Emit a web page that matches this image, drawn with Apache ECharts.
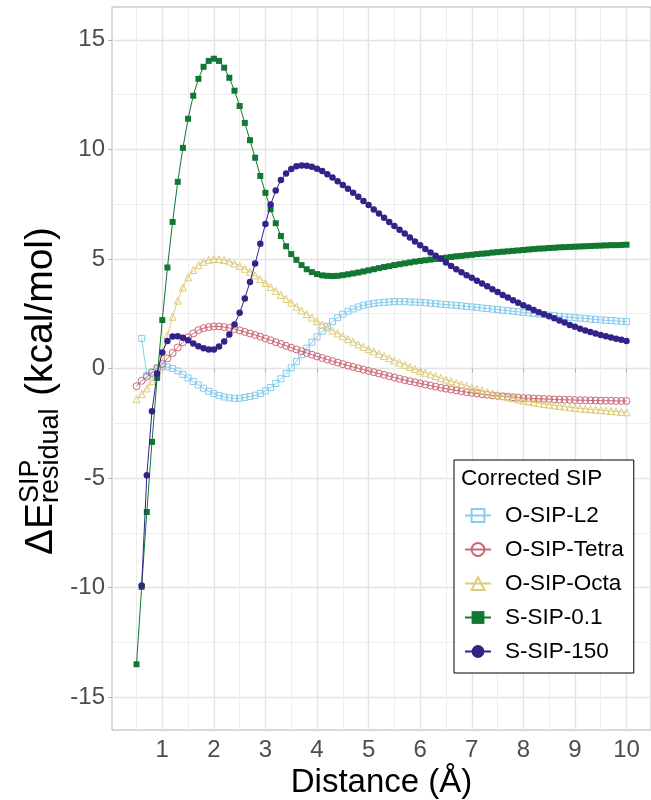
<!DOCTYPE html>
<html>
<head>
<meta charset="utf-8">
<script src="https://cdn.jsdelivr.net/npm/echarts@6/dist/echarts.min.js"></script>
<style>
html,body{margin:0;padding:0;background:#fff;}
#chart{width:651px;height:800px;}
</style>
</head>
<body>
<div id="chart"></div>
<script>
const distance = [0.5,0.6,0.7,0.8,0.9,1.0,1.1,1.2,1.3,1.4,1.5,1.6,1.7,1.8,1.9,2.0,2.1,2.2,2.3,2.4,2.5,2.6,2.7,2.8,2.9,3.0,3.1,3.2,3.3,3.4,3.5,3.6,3.7,3.8,3.9,4.0,4.1,4.2,4.3,4.4,4.5,4.6,4.7,4.8,4.9,5.0,5.1,5.2,5.3,5.4,5.5,5.6,5.7,5.8,5.9,6.0,6.1,6.2,6.3,6.4,6.5,6.6,6.7,6.8,6.9,7.0,7.1,7.2,7.3,7.4,7.5,7.6,7.7,7.8,7.9,8.0,8.1,8.2,8.3,8.4,8.5,8.6,8.7,8.8,8.9,9.0,9.1,9.2,9.3,9.4,9.5,9.6,9.7,9.8,9.9,10.0];

const oSipL2 = [null,1.37,-0.31,-0.15,0.03,0.10,0.07,0.00,-0.11,-0.27,-0.43,-0.59,-0.75,-0.90,-1.04,-1.14,-1.23,-1.30,-1.34,-1.36,-1.36,-1.32,-1.28,-1.22,-1.14,-1.02,-0.87,-0.68,-0.47,-0.23,0.03,0.32,0.63,0.93,1.20,1.45,1.70,1.93,2.14,2.32,2.48,2.61,2.72,2.81,2.88,2.93,2.97,3.00,3.02,3.04,3.05,3.05,3.05,3.04,3.03,3.02,3.00,2.98,2.96,2.94,2.92,2.90,2.88,2.86,2.83,2.81,2.79,2.76,2.74,2.71,2.69,2.66,2.64,2.61,2.59,2.56,2.54,2.51,2.48,2.46,2.43,2.41,2.38,2.36,2.34,2.32,2.30,2.28,2.26,2.24,2.22,2.20,2.19,2.17,2.15,2.14];

const oSipTetra = [-0.81,-0.56,-0.38,-0.20,0.00,0.20,0.46,0.71,0.96,1.20,1.42,1.60,1.75,1.84,1.89,1.92,1.92,1.89,1.85,1.80,1.74,1.67,1.60,1.53,1.45,1.37,1.29,1.20,1.12,1.03,0.95,0.87,0.79,0.71,0.63,0.55,0.48,0.41,0.34,0.27,0.20,0.13,0.07,0.01,-0.05,-0.11,-0.17,-0.23,-0.29,-0.35,-0.41,-0.47,-0.53,-0.58,-0.63,-0.68,-0.73,-0.78,-0.83,-0.88,-0.92,-0.96,-1.00,-1.04,-1.08,-1.11,-1.14,-1.17,-1.20,-1.23,-1.25,-1.27,-1.29,-1.31,-1.33,-1.35,-1.36,-1.37,-1.38,-1.39,-1.40,-1.41,-1.42,-1.43,-1.43,-1.44,-1.45,-1.45,-1.46,-1.46,-1.47,-1.47,-1.47,-1.48,-1.48,-1.48];

const oSipOcta = [-1.40,-1.17,-0.91,-0.58,0.00,0.72,1.52,2.36,3.10,3.70,4.16,4.49,4.72,4.87,4.96,5.00,4.99,4.95,4.88,4.79,4.68,4.55,4.41,4.25,4.08,3.90,3.72,3.54,3.36,3.18,3.00,2.82,2.65,2.48,2.32,2.16,2.01,1.87,1.73,1.60,1.47,1.34,1.22,1.10,0.99,0.88,0.78,0.67,0.57,0.47,0.37,0.27,0.17,0.07,-0.02,-0.11,-0.19,-0.27,-0.35,-0.43,-0.51,-0.58,-0.65,-0.72,-0.79,-0.86,-0.93,-1.00,-1.07,-1.14,-1.20,-1.26,-1.31,-1.36,-1.41,-1.46,-1.50,-1.54,-1.58,-1.62,-1.65,-1.68,-1.71,-1.74,-1.77,-1.80,-1.82,-1.84,-1.86,-1.88,-1.90,-1.92,-1.94,-1.96,-1.98,-2.00];

const sSip01 = [-13.50,-9.97,-6.55,-3.35,-0.43,2.21,4.61,6.69,8.52,10.07,11.40,12.45,13.22,13.77,14.04,14.14,14.04,13.73,13.27,12.68,11.98,11.21,10.42,9.62,8.79,8.02,7.27,6.63,6.05,5.58,5.22,4.96,4.72,4.53,4.40,4.31,4.25,4.23,4.22,4.23,4.26,4.30,4.34,4.38,4.43,4.48,4.53,4.58,4.63,4.67,4.72,4.76,4.80,4.84,4.88,4.91,4.94,4.97,5.00,5.03,5.06,5.09,5.12,5.14,5.17,5.19,5.22,5.24,5.26,5.29,5.31,5.33,5.35,5.37,5.39,5.41,5.43,5.45,5.47,5.48,5.50,5.51,5.53,5.54,5.55,5.56,5.57,5.58,5.59,5.60,5.61,5.62,5.63,5.63,5.64,5.65];

const sSip150 = [null,-9.90,-4.87,-1.95,-0.23,0.73,1.26,1.46,1.47,1.40,1.29,1.14,1.02,0.92,0.87,0.87,1.00,1.23,1.55,2.01,2.54,3.20,3.95,4.79,5.69,6.60,7.48,8.12,8.60,8.90,9.11,9.23,9.27,9.25,9.21,9.12,9.01,8.87,8.72,8.55,8.38,8.20,8.02,7.84,7.65,7.46,7.26,7.07,6.88,6.69,6.50,6.33,6.16,5.98,5.80,5.63,5.46,5.30,5.15,5.01,4.84,4.68,4.53,4.39,4.26,4.14,4.01,3.88,3.75,3.62,3.49,3.36,3.24,3.12,3.00,2.89,2.78,2.67,2.57,2.48,2.38,2.29,2.19,2.10,1.99,1.90,1.82,1.74,1.67,1.60,1.53,1.47,1.41,1.36,1.31,1.26];

const xTicks = [1,2,3,4,5,6,7,8,9,10];
const xMinorTicks = [0.5,1.5,2.5,3.5,4.5,5.5,6.5,7.5,8.5,9.5];
const yTicks = [-15,-10,-5,0,5,10,15];
const yMinorTicks = [-12.5,-7.5,-2.5,2.5,7.5,12.5];
const seriesNames = ['O-SIP-L2','O-SIP-Tetra','O-SIP-Octa','S-SIP-0.1','S-SIP-150'];
const seriesColors = ['#88CCEE','#CC6677','#DDCC77','#117733','#332288'];

const FONT = "'Liberation Sans', Arial, Helvetica, sans-serif";
const X_MIN = 0.025, X_MAX = 10.475, Y_MIN = -16.5, Y_MAX = 16.5;

function pairs(vals){ return distance.map((d,i)=>[d, vals[i]]); }

const chart = echarts.init(document.getElementById('chart'), null, {renderer:'canvas'});

const majorLine = {show:true, lineStyle:{color:'#E3E3E3', width:1.4}};
const minorLine = {show:true, lineStyle:{color:'#EEEEEE', width:1}};

const specs = [
  {vals:oSipL2, symbol:'rect', size:6, open:true},
  {vals:oSipTetra, symbol:'circle', size:7, open:true},
  {vals:oSipOcta, symbol:'triangle', size:7, open:true},
  {vals:sSip01, symbol:'rect', size:6, open:false},
  {vals:sSip150, symbol:'circle', size:6.5, open:false}
];

const series = specs.map((s,i)=>({
  name: seriesNames[i],
  type:'line',
  data: pairs(s.vals),
  symbol: s.symbol,
  symbolSize: s.size,
  showSymbol: true,
  connectNulls: false,
  lineStyle:{color:seriesColors[i], width:1},
  itemStyle: s.open
    ? {color:'rgba(255,255,255,0)', borderColor:seriesColors[i], borderWidth:1}
    : {color:seriesColors[i], borderWidth:0},
  emphasis:{disabled:true},
  z: 2 + i
}));

// y-axis title geometry (main font / script font)
const TF = 39, SF = 27;
const BL = 0.31; // baseline offset from middle, in em

chart.setOption({
  animation:false,
  backgroundColor:'#ffffff',
  textStyle:{fontFamily:FONT},
  grid:{left:112, top:7, width:539, height:723, containLabel:false, outerBoundsMode:'none',
        show:true, borderColor:'#B3B3B3', borderWidth:1, backgroundColor:'rgba(0,0,0,0)'},
  xAxis:[{
    type:'value', min:X_MIN, max:X_MAX,
    axisLine:{show:false},
    axisTick:{show:true, length:4, lineStyle:{color:'#B3B3B3'}, customValues:xTicks},
    axisLabel:{customValues:xTicks, fontSize:24, color:'#4D4D4D', margin:8, fontFamily:FONT},
    splitLine:majorLine,
    name:'Distance (Å)', nameLocation:'middle', nameGap:35,
    nameTextStyle:{fontSize:33, color:'#000', fontFamily:FONT}
  },{
    type:'value', min:X_MIN, max:X_MAX, position:'bottom',
    axisLine:{show:false}, axisLabel:{show:false},
    axisTick:{show:false, customValues:xMinorTicks},
    splitLine:minorLine
  }],
  yAxis:[{
    type:'value', min:Y_MIN, max:Y_MAX,
    axisLine:{show:false},
    axisTick:{show:true, length:4, lineStyle:{color:'#B3B3B3'}, customValues:yTicks},
    axisLabel:{customValues:yTicks, fontSize:24, color:'#4D4D4D', margin:7, fontFamily:FONT},
    splitLine:majorLine
  },{
    type:'value', min:Y_MIN, max:Y_MAX, position:'left',
    axisLine:{show:false}, axisLabel:{show:false},
    axisTick:{show:false, customValues:yMinorTicks},
    splitLine:minorLine
  }],
  legend:{
    orient:'vertical', left:454, top:460,
    padding:[44, 10, 10, 10],
    borderColor:'#000', borderWidth:1, backgroundColor:'#ffffff',
    itemWidth:26, itemHeight:16, itemGap:11,
    textStyle:{fontSize:22.5, color:'#000', fontFamily:FONT, padding:[0,0,0,9]},
    data:seriesNames
  },
  graphic:[
    {type:'text', left:461, top:467, z:100,
     style:{text:'Corrected SIP', fill:'#000', font:'22.5px ' + FONT}},
    {type:'group', x:53, y:555, rotation:Math.PI/2, z:100, children:[
      {type:'text', x:0, y:-BL*TF, style:{text:'ΔE', font:TF+'px ' + FONT, fill:'#000', verticalAlign:'middle', align:'left'}},
      {type:'text', x:52, y:-14-BL*SF, style:{text:'SIP', font:SF+'px ' + FONT, fill:'#000', verticalAlign:'middle', align:'left'}},
      {type:'text', x:52, y:6-BL*SF, style:{text:'residual', font:SF+'px ' + FONT, fill:'#000', verticalAlign:'middle', align:'left'}},
      {type:'text', x:159, y:-BL*TF, style:{text:'(kcal/mol)', font:TF+'px ' + FONT, fill:'#000', verticalAlign:'middle', align:'left'}}
    ]}
  ],
  series: series
});
</script>
</body>
</html>
